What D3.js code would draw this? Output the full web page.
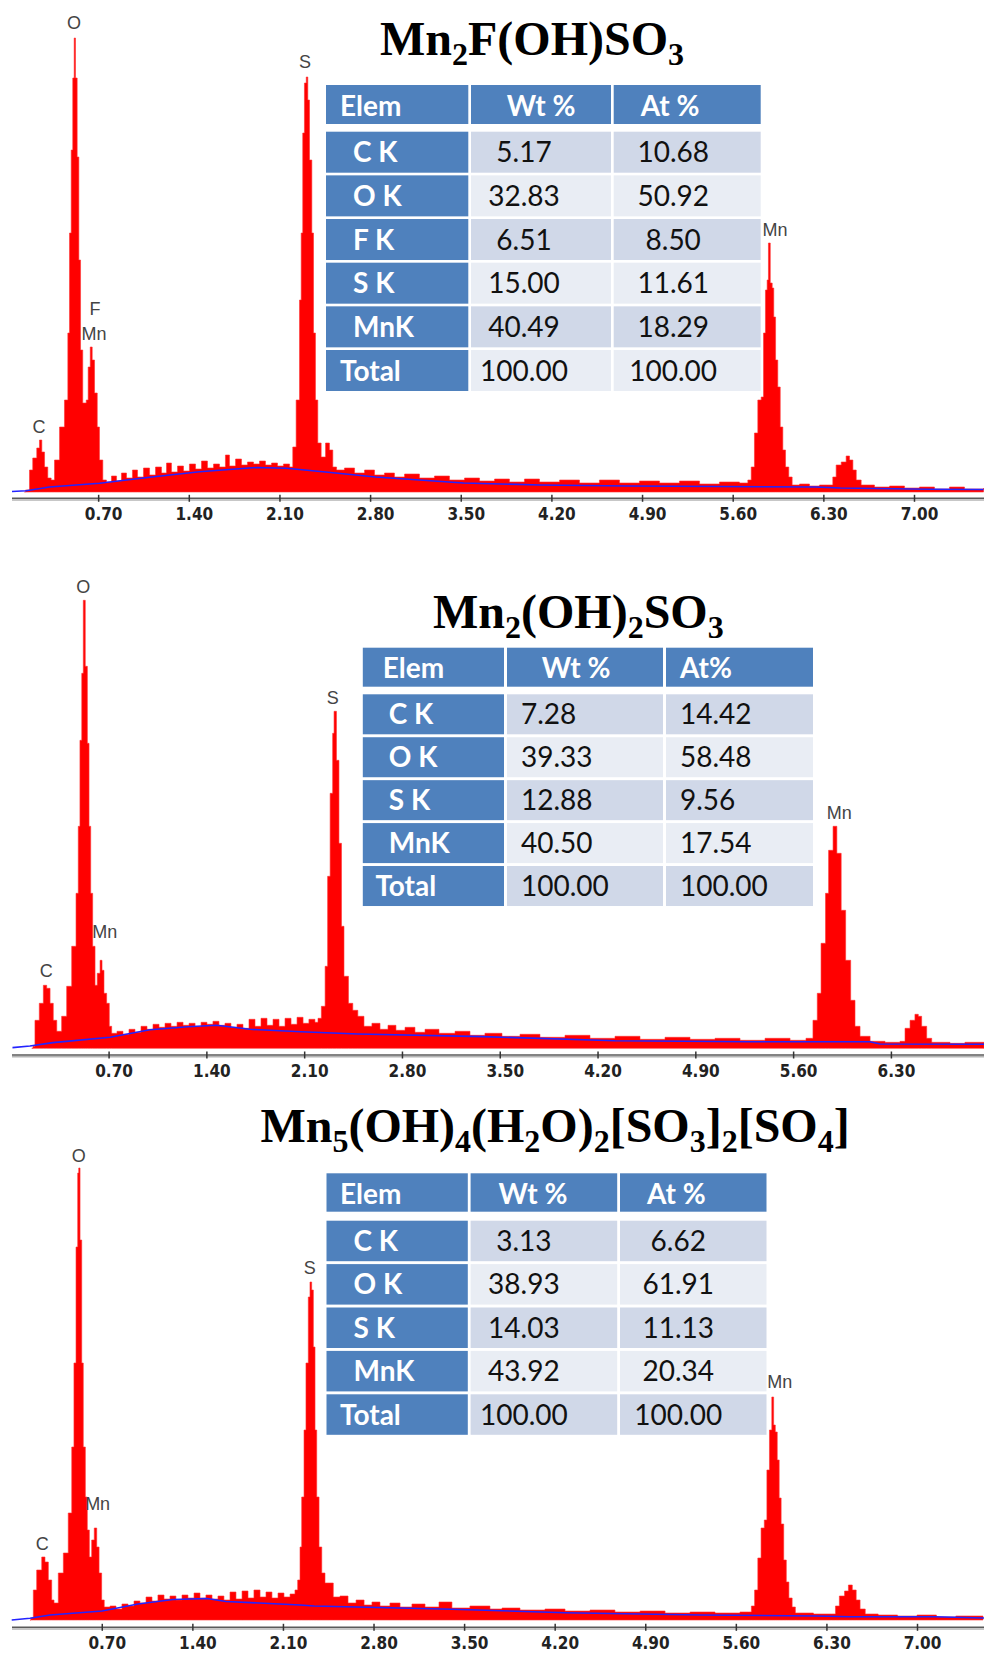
<!DOCTYPE html>
<html>
<head>
<meta charset="utf-8">
<script src="https://cdn.jsdelivr.net/npm/d3@7"></script>
<style>
  body { margin: 0; background: #fff; }
  svg { display: block; }
</style>
</head>
<body>
<svg id="chart" width="984" height="1653"></svg>
<script>
// ---- data (energy keV, counts in px units) ----
const TICKS_LONG = [0.70, 1.40, 2.10, 2.80, 3.50, 4.20, 4.90, 5.60, 6.30, 7.00];
const TICKS_SHORT = [0.70, 1.40, 2.10, 2.80, 3.50, 4.20, 4.90, 5.60, 6.30];

const spectrum1 = [
  [0.131,0],[0.139,2],[0.170,22],[0.195,34],[0.226,44],[0.247,52],[0.265,40],[0.286,25],[0.311,14],[0.337,12],
  [0.363,32],[0.402,65],[0.440,92],[0.466,159],[0.479,259],[0.492,342],[0.504,414],[0.515,454],[0.525,414],[0.538,335],
  [0.551,232],[0.564,142],[0.581,89],[0.608,92],[0.623,125],[0.639,145],[0.654,132],[0.672,99],[0.693,65],[0.710,32],
  [0.736,12],[0.764,10],[0.803,16],[0.842,11],[0.880,19],[0.919,14],[0.965,22],[1.004,15],[1.050,24],[1.097,17],
  [1.143,25],[1.189,19],[1.228,29],[1.266,20],[1.313,26],[1.359,21],[1.405,28],[1.452,23],[1.498,31],[1.544,24],
  [1.591,28],[1.637,25],[1.683,37],[1.714,26],[1.761,33],[1.807,27],[1.853,30],[1.900,28],[1.946,31],[1.992,27],
  [2.039,29],[2.085,26],[2.131,28],[2.178,25],[2.203,45],[2.229,92],[2.255,192],[2.268,259],[2.280,359],[2.293,409],
  [2.307,415],[2.319,392],[2.332,332],[2.350,259],[2.363,159],[2.378,92],[2.396,49],[2.422,35],[2.456,49],[2.486,42],
  [2.512,25],[2.541,22],[2.602,24],[2.680,19],[2.757,22],[2.834,17],[2.911,19],[2.988,15],[3.066,18],[3.181,14],
  [3.297,16],[3.413,12],[3.529,14],[3.645,11],[3.761,13],[3.876,10],[3.992,13],[4.108,10],[4.263,12],[4.417,9],
  [4.571,12],[4.726,9],[4.880,11],[5.035,9],[5.189,11],[5.344,8],[5.498,10],[5.652,9],[5.717,12],[5.743,25],
  [5.768,59],[5.794,92],[5.820,95],[5.838,159],[5.853,202],[5.866,212],[5.876,249],[5.890,209],[5.905,204],[5.917,175],
  [5.931,132],[5.948,105],[5.967,65],[5.987,42],[6.008,25],[6.033,15],[6.059,7],[6.116,8],[6.193,6],[6.270,7],
  [6.334,7],[6.373,15],[6.399,27],[6.438,30],[6.476,36],[6.502,32],[6.528,22],[6.554,12],[6.592,7],[6.695,5],
  [6.811,6],[6.927,4],[7.042,5],[7.158,3],[7.274,5],[7.390,3],[7.537,4]
];
const background1 = [
  [0.035,0.5],[0.144,1.3],[0.324,5],[0.710,8.7],[1.097,14.7],[1.483,20.3],[1.737,22.7],[1.923,24.5],[2.154,23.7],
  [2.456,20],[2.842,15],[3.181,12],[3.521,9],[4.108,7],[4.788,6],[5.498,5.5],[6.239,5],[6.432,4],[7.112,2.7],[7.537,2.5]
];

const spectrum2 = [
  [0.150,0],[0.159,2],[0.173,28],[0.204,45],[0.233,63],[0.257,60],[0.281,45],[0.304,28],[0.329,17],[0.364,32],
  [0.400,62],[0.436,102],[0.467,155],[0.483,222],[0.495,308],[0.508,375],[0.519,448],[0.533,382],[0.548,305],[0.560,222],
  [0.572,155],[0.586,102],[0.603,63],[0.619,75],[0.639,88],[0.653,78],[0.667,55],[0.686,45],[0.705,22],[0.722,15],
  [0.760,17],[0.803,14],[0.846,19],[0.889,16],[0.932,22],[0.975,19],[1.018,24],[1.061,21],[1.104,25],[1.147,22],
  [1.190,26],[1.233,23],[1.276,25],[1.319,22],[1.362,26],[1.404,24],[1.447,27],[1.490,23],[1.533,25],[1.576,21],
  [1.619,24],[1.662,20],[1.705,29],[1.748,22],[1.791,30],[1.834,23],[1.877,29],[1.920,22],[1.963,30],[2.006,24],
  [2.049,31],[2.092,25],[2.134,29],[2.177,26],[2.199,30],[2.223,42],[2.250,82],[2.268,172],[2.286,255],[2.304,315],
  [2.314,337],[2.331,288],[2.349,205],[2.367,122],[2.385,72],[2.417,45],[2.448,38],[2.484,32],[2.528,22],[2.585,25],
  [2.643,19],[2.700,23],[2.757,18],[2.822,21],[2.893,16],[2.965,19],[3.065,15],[3.180,17],[3.287,13],[3.394,15],
  [3.516,12],[3.645,14],[3.788,11],[3.967,13],[4.146,10],[4.325,12],[4.504,9],[4.683,11],[4.862,9],[5.041,10],
  [5.220,8],[5.399,10],[5.578,8],[5.692,10],[5.742,28],[5.773,55],[5.800,105],[5.832,155],[5.854,198],[5.886,222],
  [5.913,195],[5.944,138],[5.976,88],[6.012,48],[6.043,22],[6.079,12],[6.151,7],[6.258,6],[6.365,7],[6.401,20],
  [6.437,28],[6.472,34],[6.496,32],[6.520,22],[6.556,10],[6.592,6],[6.723,5],[6.830,6],[6.967,5]
];
const background2 = [
  [0.012,0.7],[0.137,2.3],[0.302,5.7],[0.710,11],[0.996,18.5],[1.268,21.5],[1.473,23],[1.712,19],[2.077,16.5],
  [2.485,14.3],[3.380,11.7],[4.325,7.5],[5.292,6.6],[6.150,6.6],[6.222,4.3],[6.967,4]
];

const spectrum3 = [
  [0.145,0],[0.153,2],[0.171,30],[0.197,50],[0.236,63],[0.261,58],[0.287,40],[0.313,20],[0.331,17],[0.364,47],
  [0.403,67],[0.441,107],[0.468,173],[0.485,257],[0.501,373],[0.514,447],[0.522,452],[0.532,380],[0.545,257],[0.557,173],
  [0.573,123],[0.588,90],[0.604,63],[0.622,80],[0.642,92],[0.661,73],[0.679,47],[0.699,20],[0.719,13],[0.764,14],
  [0.810,11],[0.856,16],[0.903,14],[0.949,19],[0.995,17],[1.042,23],[1.088,19],[1.134,25],[1.181,21],[1.227,24],
  [1.273,20],[1.320,25],[1.366,22],[1.413,27],[1.459,22],[1.505,25],[1.552,21],[1.598,24],[1.644,20],[1.691,28],
  [1.737,21],[1.784,29],[1.830,22],[1.876,30],[1.923,23],[1.969,28],[2.015,22],[2.062,27],[2.108,23],[2.155,26],
  [2.193,30],[2.214,40],[2.232,73],[2.245,123],[2.263,190],[2.278,257],[2.296,323],[2.309,338],[2.322,330],[2.335,273],
  [2.348,190],[2.361,123],[2.379,73],[2.400,47],[2.425,37],[2.458,37],[2.489,23],[2.541,24],[2.603,17],[2.665,20],
  [2.727,15],[2.788,18],[2.850,14],[2.927,17],[3.005,13],[3.097,16],[3.198,13],[3.306,18],[3.406,12],[3.545,14],
  [3.700,11],[3.793,12],[3.932,10],[4.125,11],[4.280,9],[4.473,10],[4.666,8],[4.860,9],[5.053,7],[5.246,8],
  [5.439,7],[5.632,8],[5.700,8],[5.720,14],[5.745,30],[5.770,62],[5.795,92],[5.820,100],[5.840,150],[5.860,190],
  [5.878,223],[5.892,195],[5.905,188],[5.920,160],[5.935,122],[5.950,96],[5.970,60],[5.990,38],[6.010,22],[6.035,13],
  [6.060,7],[6.200,6],[6.340,6],[6.370,14],[6.400,24],[6.440,29],[6.470,35],[6.500,30],[6.530,20],[6.560,11],
  [6.600,6],[6.700,5],[6.850,4],[7.000,5],[7.150,3],[7.300,4],[7.510,3]
];
const background3 = [
  [0.004,0],[0.145,1.7],[0.300,5],[0.702,9],[0.980,16],[1.250,20.5],[1.513,21.5],[1.660,18.5],[2.232,15],
  [2.340,14],[3.407,10.7],[4.280,7.3],[5.323,5],[6.220,4],[6.482,3.3],[7.139,3.3],[7.518,2]
];

// peak labels: [text, keV, height]
const labels1 = [["O",0.514,463],["S",2.297,424],["F",0.676,177],["Mn",0.668,152],["C",0.243,59],["Mn",5.927,256]];
const labels2 = [["O",0.519,455],["S",2.304,344],["Mn",0.672,110],["C",0.253,71],["Mn",5.930,229]];
const labels3 = [["O",0.522,458],["S",2.307,346],["Mn",0.668,110],["C",0.240,70],["Mn",5.940,232]];

// formula titles: [text, subscript?]
const title1 = [["Mn",0],["2",1],["F(OH)SO",0],["3",1]];
const title2 = [["Mn",0],["2",1],["(OH)",0],["2",1],["SO",0],["3",1]];
const title3 = [["Mn",0],["5",1],["(OH)",0],["4",1],["(H",0],["2",1],["O)",0],["2",1],["[SO",0],["3",1],["]",0],["2",1],["[SO",0],["4",1],["]",0]];

// composition tables
const header1 = ["Elem", "Wt %", "At %"];
const header2 = ["Elem", "Wt %", "At%"];
const header3 = ["Elem", "Wt %", "At %"];
const rows1 = [["C K","5.17","10.68"],["O K","32.83","50.92"],["F K","6.51","8.50"],["S K","15.00","11.61"],["MnK","40.49","18.29"],["Total","100.00","100.00"]];
const rows2 = [["C K","7.28","14.42"],["O K","39.33","58.48"],["S K","12.88","9.56"],["MnK","40.50","17.54"],["Total","100.00","100.00"]];
const rows3 = [["C K","3.13","6.62"],["O K","38.93","61.91"],["S K","14.03","11.13"],["MnK","43.92","20.34"],["Total","100.00","100.00"]];

const TABLE_FONT = "Lato, 'Open Sans', sans-serif";

class EdsPanel {
  constructor(svg, d, L) {
    this.d = d;
    this.L = L;
    this.g = svg.append('g');

    this.xScale = d3.scaleLinear()
      .domain([0, L.kevMax])
      .range([L.x0, L.x0 + L.pxPerKev * L.kevMax]);
    this.yScale = d3.scaleLinear()
      .domain([0, 500])
      .range([L.baseline, L.baseline - 500]);

    this.drawSpectrum();
    this.drawAxis();
    this.drawLabels();
    this.drawTitle();
    this.drawTable();
  }

  drawSpectrum() {
    // histogram-like outline
    let area = d3.area()
      .curve(d3.curveStepAfter)
      .x(d => this.xScale(d[0]))
      .y0(this.L.baseline)
      .y1(d => this.yScale(d[1]));
    this.g.append('path')
      .datum(this.d.spectrum)
      .attr('d', area)
      .attr('fill', '#ff0000')
      .attr('stroke', '#ff3030')
      .attr('stroke-width', 0.6);

    let line = d3.line()
      .x(d => this.xScale(d[0]))
      .y(d => this.yScale(d[1]));
    this.g.append('path')
      .datum(this.d.background)
      .attr('d', line)
      .attr('fill', 'none')
      .attr('stroke', '#2323ff')
      .attr('stroke-width', 1.6);
  }

  drawAxis() {
    let axis = d3.axisBottom(this.xScale)
      .tickValues(this.d.ticks)
      .tickFormat(d3.format('.2f'))
      .tickSize(0);
    let ax = this.g.append('g')
      .attr('transform', `translate(0, ${this.L.axisY})`)
      .call(axis);
    ax.select('.domain').remove();

    // double grey axis rule
    ax.insert('line', ':first-child')
      .attr('x1', 12).attr('x2', 984).attr('y1', 1.8).attr('y2', 1.8)
      .attr('stroke', '#b4b4b4').attr('stroke-width', 1.5);
    ax.insert('line', ':first-child')
      .attr('x1', 12).attr('x2', 984).attr('y1', 0).attr('y2', 0)
      .attr('stroke', '#5a5a5a').attr('stroke-width', 1.6);

    ax.selectAll('.tick line')
      .attr('y1', -3.5).attr('y2', 3.5)
      .attr('stroke', '#333').attr('stroke-width', 1.5);
    ax.selectAll('.tick text')
      .attr('y', 16).attr('dy', '0.35em').attr('dx', 5)
      .attr('fill', '#222')
      .style('font-family', "'Liberation Sans Narrow', 'Arial Narrow', 'DejaVu Sans Condensed', sans-serif")
      .style('font-weight', 'bold')
      .style('font-size', '17px');
  }

  drawLabels() {
    this.g.selectAll('text.peak')
      .data(this.d.labels)
      .join('text')
      .attr('class', 'peak')
      .attr('x', d => this.xScale(d[1]))
      .attr('y', d => this.yScale(d[2]))
      .attr('text-anchor', 'middle')
      .attr('fill', '#444')
      .style('font-family', "'Liberation Sans', Arial, sans-serif")
      .style('font-size', '18px')
      .text(d => d[0]);
  }

  drawTitle() {
    let t = this.g.append('text')
      .attr('x', this.L.title[0])
      .attr('y', this.L.title[1])
      .attr('fill', '#000')
      .style('font-family', "'Liberation Serif', 'Times New Roman', serif")
      .style('font-weight', 'bold')
      .style('font-size', '48px');
    let shift = 0;
    this.d.title.forEach(seg => {
      let target = seg[1] ? 10 : 0;
      t.append('tspan')
        .attr('dy', target - shift)
        .style('font-size', seg[1] ? '32px' : '48px')
        .text(seg[0]);
      shift = target;
    });
  }

  drawTable() {
    let T = this.L.table;
    let colX = [T.x];
    for (let i = 1; i < 3; i++) colX.push(colX[i - 1] + T.cols[i - 1] + T.gap);

    let tg = this.g.append('g');

    // header
    this.d.header.forEach((h, i) => {
      tg.append('rect')
        .attr('x', colX[i]).attr('y', T.y)
        .attr('width', T.cols[i]).attr('height', T.headH)
        .attr('fill', '#4f81bd');
      tg.append('text')
        .attr('x', colX[i] + T.headDx[i])
        .attr('y', T.y + T.headH / 2 + 11)
        .attr('fill', '#fff')
        .style('font-family', TABLE_FONT)
        .style('font-weight', 'bold')
        .style('font-size', '28px')
        .text(h);
    });

    // body rows
    let top0 = T.y + T.headH + T.headGap;
    this.d.rows.forEach((row, r) => {
      let y = top0 + r * T.pitch;
      let shade = r % 2 === 0 ? '#d0d8e8' : '#e9edf4';
      row.forEach((cell, i) => {
        tg.append('rect')
          .attr('x', colX[i]).attr('y', y)
          .attr('width', T.cols[i]).attr('height', T.rowH)
          .attr('fill', i === 0 ? '#4f81bd' : shade);
        let txt = tg.append('text')
          .attr('y', y + T.rowH / 2 + 10)
          .style('font-family', TABLE_FONT)
          .style('font-size', '28px')
          .text(cell);
        if (i === 0) {
          let dx = cell === 'Total' ? T.totalDx : T.elemDx;
          txt.attr('x', colX[0] + dx)
            .attr('fill', '#fff')
            .style('font-weight', 'bold');
        } else {
          let a = T.data[i - 1];
          let base = a.anchor === 'middle' ? colX[i] + T.cols[i] / 2 : colX[i];
          txt.attr('x', base + a.dx)
            .attr('text-anchor', a.anchor)
            .attr('fill', '#111');
        }
      });
    });
  }
}

const svg = d3.select('#chart');

new EdsPanel(svg,
  {spectrum: spectrum1, background: background1, ticks: TICKS_LONG, labels: labels1, title: title1, header: header1, rows: rows1},
  {baseline: 492, axisY: 498.3, x0: 7.5, pxPerKev: 129.5, kevMax: 7.6, title: [380, 55],
   table: {x: 326, y: 85, cols: [142.3, 140, 147], gap: 2.7, headH: 39, headGap: 7.7, rowH: 41, pitch: 43.66,
           headDx: [14, 35.7, 27], elemDx: 27, totalDx: 14,
           data: [{anchor: 'middle', dx: -17}, {anchor: 'middle', dx: -14}]}});

new EdsPanel(svg,
  {spectrum: spectrum2, background: background2, ticks: TICKS_SHORT, labels: labels2, title: title2, header: header2, rows: rows2},
  {baseline: 1048.3, axisY: 1055, x0: 10.8, pxPerKev: 139.7, kevMax: 7.0, title: [433, 628.3],
   table: {x: 362.8, y: 647.7, cols: [141.2, 156, 147], gap: 3, headH: 39, headGap: 7.6, rowH: 40, pitch: 42.93,
           headDx: [20, 34.7, 14], elemDx: 26, totalDx: 12.6,
           data: [{anchor: 'start', dx: 14}, {anchor: 'start', dx: 14}]}});

new EdsPanel(svg,
  {spectrum: spectrum3, background: background3, ticks: TICKS_LONG, labels: labels3, title: title3, header: header3, rows: rows3},
  {baseline: 1620, axisY: 1627.3, x0: 11.2, pxPerKev: 129.4, kevMax: 7.6, title: [260.4, 1141.7],
   table: {x: 326.5, y: 1173.3, cols: [141.3, 146.6, 146.5], gap: 2.8, headH: 38.4, headGap: 9, rowH: 40.5, pitch: 43.4,
           headDx: [13.5, 28, 27], elemDx: 27, totalDx: 13.5,
           data: [{anchor: 'middle', dx: -20}, {anchor: 'middle', dx: -15}]}});
</script>
</body>
</html>
